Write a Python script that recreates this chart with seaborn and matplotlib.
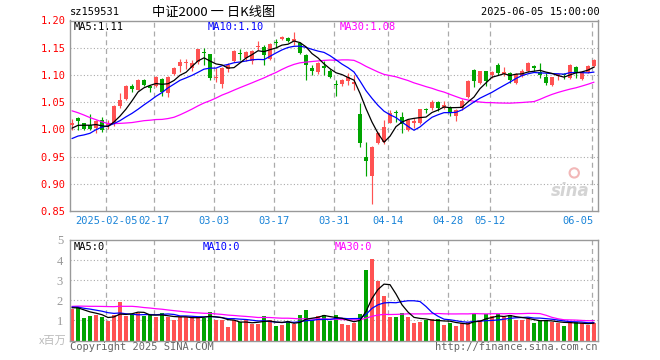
import numpy as np
import pandas as pd
import matplotlib
matplotlib.use("Agg")
import matplotlib.pyplot as plt
import matplotlib.transforms as mtransforms
import seaborn as sns

# ---------------- data ----------------
open_ = [1.008, 1.021, 1.011, 1.008, 1.002, 1.017, 1.006, 1.009, 1.042, 1.055,
         1.080, 1.073, 1.090, 1.080, 1.079, 1.093, 1.066, 1.101, 1.116, 1.121,
         1.113, 1.123, 1.142, 1.138, 1.094, 1.083, 1.110, 1.125, 1.141, 1.132,
         1.125, 1.152, 1.152, 1.130, 1.160, 1.166, 1.168, 1.163, 1.159, 1.137,
         1.113, 1.106, 1.117, 1.108, 1.084, 1.084, 1.089, 1.084, 1.028, 0.949,
         0.914, 0.975, 0.976, 1.012, 1.031, 1.023, 0.999, 1.012, 1.012, 1.037,
         1.039, 1.050, 1.039, 1.040, 1.025, 1.039, 1.060, 1.109, 1.086, 1.107,
         1.099, 1.119, 1.101, 1.104, 1.086, 1.098, 1.107, 1.116, 1.106, 1.096,
         1.082, 1.098, 1.101, 1.095, 1.115, 1.092, 1.105, 1.117]
high = [1.019, 1.022, 1.012, 1.028, 1.017, 1.022, 1.017, 1.044, 1.067, 1.081,
        1.084, 1.092, 1.093, 1.081, 1.098, 1.095, 1.098, 1.115, 1.129, 1.129,
        1.127, 1.148, 1.149, 1.139, 1.112, 1.114, 1.121, 1.146, 1.147, 1.144,
        1.146, 1.162, 1.155, 1.158, 1.166, 1.172, 1.170, 1.178, 1.160, 1.138,
        1.118, 1.124, 1.125, 1.110, 1.091, 1.093, 1.103, 1.100, 1.048, 0.977,
        0.970, 0.995, 1.017, 1.036, 1.036, 1.032, 1.018, 1.020, 1.038, 1.040,
        1.054, 1.052, 1.052, 1.043, 1.038, 1.055, 1.090, 1.111, 1.108, 1.108,
        1.107, 1.122, 1.114, 1.106, 1.103, 1.110, 1.123, 1.119, 1.122, 1.104,
        1.097, 1.103, 1.103, 1.120, 1.117, 1.107, 1.118, 1.130]
low = [0.999, 0.999, 0.998, 0.998, 0.993, 0.996, 1.001, 1.007, 1.040, 1.054,
       1.068, 1.072, 1.080, 1.069, 1.077, 1.062, 1.060, 1.099, 1.106, 1.111,
       1.108, 1.120, 1.118, 1.090, 1.087, 1.076, 1.106, 1.123, 1.127, 1.126,
       1.120, 1.145, 1.119, 1.128, 1.150, 1.164, 1.160, 1.155, 1.138, 1.091,
       1.100, 1.102, 1.100, 1.094, 1.061, 1.080, 1.082, 1.073, 0.968, 0.915,
       0.863, 0.973, 0.974, 1.011, 1.014, 0.994, 0.997, 1.002, 1.010, 1.030,
       1.036, 1.033, 1.037, 1.024, 1.016, 1.036, 1.057, 1.078, 1.084, 1.079,
       1.095, 1.100, 1.098, 1.086, 1.083, 1.096, 1.105, 1.107, 1.094, 1.082,
       1.080, 1.090, 1.093, 1.093, 1.095, 1.090, 1.103, 1.115]
close = [1.011, 1.016, 1.001, 1.000, 1.016, 0.999, 1.010, 1.043, 1.054, 1.080,
         1.075, 1.091, 1.082, 1.076, 1.097, 1.068, 1.096, 1.112, 1.124, 1.124,
         1.122, 1.147, 1.140, 1.095, 1.097, 1.113, 1.118, 1.144, 1.138, 1.142,
         1.144, 1.154, 1.136, 1.156, 1.158, 1.170, 1.162, 1.166, 1.141, 1.119,
         1.108, 1.122, 1.112, 1.096, 1.082, 1.091, 1.096, 1.087, 0.975, 0.942,
         0.967, 0.993, 1.005, 1.030, 1.030, 1.009, 1.017, 1.015, 1.037, 1.035,
         1.051, 1.039, 1.044, 1.030, 1.036, 1.053, 1.089, 1.089, 1.107, 1.089,
         1.105, 1.104, 1.106, 1.091, 1.101, 1.108, 1.121, 1.113, 1.099, 1.085,
         1.096, 1.101, 1.099, 1.119, 1.104, 1.105, 1.117, 1.127]
volume = [1.55, 1.67, 1.10, 1.20, 1.28, 1.17, 0.97, 1.25, 1.90, 1.20,
          1.33, 1.37, 1.20, 1.25, 1.17, 1.37, 1.17, 1.00, 1.17, 1.17,
          1.17, 1.17, 1.12, 1.40, 1.00, 1.00, 0.67, 1.00, 0.92, 1.00,
          0.82, 0.80, 1.20, 1.03, 0.72, 0.75, 0.97, 0.82, 1.25, 1.50,
          1.00, 1.20, 1.28, 0.97, 1.28, 0.80, 0.75, 0.87, 1.30, 3.50,
          4.05, 2.97, 2.20, 1.17, 1.17, 1.37, 1.17, 0.87, 0.92, 1.03,
          1.08, 1.08, 0.75, 0.87, 0.70, 0.87, 0.92, 1.30, 1.00, 1.30,
          1.20, 1.30, 1.17, 1.25, 1.00, 1.00, 1.08, 0.87, 0.97, 1.03,
          0.92, 0.87, 0.72, 0.92, 0.92, 0.87, 0.75, 0.87]
# closes / volumes before the visible window, estimated from where the MA lines start
hist_close = [1.12, 1.13, 1.14, 1.13, 1.12, 1.10, 1.05, 1.04, 1.06, 1.05,
              1.04, 1.03, 1.05, 1.06, 1.06, 1.05, 1.04, 0.99, 0.97, 0.96,
              0.97, 0.98, 0.97, 0.95, 0.95, 0.99, 1.00, 1.00, 1.01]
hist_volume = [1.3, 1.2, 1.4, 1.3, 1.3, 1.2, 1.4, 1.3, 1.3, 1.3,
               2.1, 2.3, 2.0, 2.2, 2.1, 2.3, 2.0, 2.1, 2.2, 2.0,
               1.7, 1.7, 1.6, 1.8, 1.7, 1.7, 1.6, 1.7, 1.6]
tick_idx = [6, 14, 24, 34, 44, 53, 63, 70, 87]
tick_labels = ["2025-02-05", "02-17", "03-03", "03-17", "03-31",
               "04-14", "04-28", "05-12", "06-05"]
price_ticks = [0.85, 0.90, 0.95, 1.00, 1.05, 1.10, 1.15, 1.20]
vol_ticks = [1, 2, 3, 4, 5]

# ---------------- derived ----------------
n = len(close)
x = np.arange(n)
o = np.array(open_); h = np.array(high); l = np.array(low); c = np.array(close)
full_c = pd.Series(hist_close + close)
full_v = pd.Series(hist_volume + volume)
ma = {k: full_c.rolling(k).mean().values[-n:] for k in (5, 10, 30)}
vma = {k: full_v.rolling(k).mean().values[-n:] for k in (5, 10, 30)}

RED = "#FF5252"
GREEN = "#00A400"
GRID = "#AAAAAA"
up = c >= o
cols = np.where(up, RED, GREEN)

sns.set_style("white")
plt.rcParams["font.family"] = ["DejaVu Sans Mono", "Noto Sans CJK SC"]

W, H = 660, 360
fig = plt.figure(figsize=(6.6, 3.6), dpi=100)


def rect(lft, top, rgt, bot):
    return [lft / W, 1 - bot / H, (rgt - lft) / W, (bot - top) / H]


ax = fig.add_axes(rect(70, 20.5, 598, 211))
axv = fig.add_axes(rect(70, 240, 598, 340.5))
XL = (-1 / 3, n - 1 / 3)

# ---- price panel ----
for yv in price_ticks[1:-1]:
    ax.axhline(yv, color=GRID, lw=0.8, ls=(0, (1, 2)), zorder=0)
for ti in tick_idx:
    ax.axvline(ti - 1 / 3, color=GRID, lw=0.9, ls=(0, (4, 3)), zorder=0)
ax.vlines(x, l, h, colors=cols, lw=0.85, zorder=2)
ax.bar(x, np.maximum(np.abs(c - o), 0.0013), bottom=np.minimum(o, c),
       width=0.76, color=cols, linewidth=0, zorder=3)
for k, col in [(30, "#FF00FF"), (10, "#0000FF"), (5, "#000000")]:
    sns.lineplot(x=x, y=ma[k], ax=ax, color=col, linewidth=0.9, zorder=4)
ax.set_xlim(*XL)
ax.set_ylim(0.85, 1.20)
ax.set_yticks(price_ticks)
ax.set_yticklabels([f"{t:.2f}" for t in price_ticks])
ax.set_xticks([])
ax.tick_params(axis="y", length=0, pad=3, labelsize=7.5, labelcolor="#FF0000")
ax.set_xlabel(""); ax.set_ylabel("")
for sp in ax.spines.values():
    sp.set_color("#999999"); sp.set_linewidth(1.0)

trans = mtransforms.blended_transform_factory(ax.transData, ax.transAxes)
for ti, lab in zip(tick_idx, tick_labels):
    ha = "right" if ti == tick_idx[-1] else "center"
    ax.text(ti - 1 / 3 + (0.2 if ha == "right" else 0), -0.055, lab, transform=trans,
            ha=ha, va="center", fontsize=7.5, color="#1A84D8")

ax.text(0.006, 0.965, "MA5:1.11", transform=ax.transAxes, fontsize=7.5,
        color="#000000", va="center", ha="left")
ax.text(0.260, 0.965, "MA10:1.10", transform=ax.transAxes, fontsize=7.5,
        color="#0000FF", va="center", ha="left")
ax.text(0.510, 0.965, "MA30:1.08", transform=ax.transAxes, fontsize=7.5,
        color="#FF00FF", va="center", ha="left")
# sina watermark
ax.text(0.985, 0.06, "sina", transform=ax.transAxes, fontsize=12,
        family="DejaVu Sans", style="italic", weight="bold",
        color="#D4D4D4", ha="right", va="bottom", zorder=1)
ax.scatter([0.955], [0.20], s=45, transform=ax.transAxes, facecolor="none",
           edgecolor="#F2B8B8", linewidth=1.5, zorder=1)

# ---- volume panel ----
for yv in vol_ticks[:-1]:
    axv.axhline(yv, color=GRID, lw=0.8, ls=(0, (1, 2)), zorder=0)
for ti in tick_idx:
    axv.axvline(ti - 1 / 3, color=GRID, lw=0.9, ls=(0, (4, 3)), zorder=0)
axv.bar(x, volume, width=0.8, color=cols, linewidth=0, zorder=2)
for k, col in [(30, "#FF00FF"), (10, "#0000FF"), (5, "#000000")]:
    sns.lineplot(x=x, y=vma[k], ax=axv, color=col, linewidth=0.9, zorder=4)
axv.set_xlim(*XL)
axv.set_ylim(0, 5)
axv.set_yticks(vol_ticks)
axv.set_yticklabels([str(t) for t in vol_ticks], family="Liberation Serif")
axv.set_xticks([])
axv.tick_params(axis="y", length=0, pad=5, labelsize=9, labelcolor="#999999")
axv.set_xlabel(""); axv.set_ylabel("")
for sp in axv.spines.values():
    sp.set_color("#999999"); sp.set_linewidth(1.0)
axv.text(0.006, 0.93, "MA5:0", transform=axv.transAxes, fontsize=7.5,
         color="#000000", va="center", ha="left")
axv.text(0.252, 0.93, "MA10:0", transform=axv.transAxes, fontsize=7.5,
         color="#0000FF", va="center", ha="left")
axv.text(0.502, 0.93, "MA30:0", transform=axv.transAxes, fontsize=7.5,
         color="#FF00FF", va="center", ha="left")

# ---- header / footer texts ----
fig.text(70 / W, 1 - 12 / H, "sz159531", fontsize=7.5, color="#000000",
         ha="left", va="center")
fig.text(214 / W, 1 - 12 / H, "中证2000 一 日K线图", fontsize=9.5,
         family=["Noto Sans CJK SC", "DejaVu Sans"], color="#000000",
         ha="center", va="center")
fig.text(600 / W, 1 - 12 / H, "2025-06-05 15:00:00", fontsize=7.5,
         color="#000000", ha="right", va="center")
fig.text(67 / W, 1 - 341 / H, "x百万", fontsize=8,
         family=["Noto Sans CJK SC", "DejaVu Sans"], color="#BBBBBB",
         ha="right", va="center")
fig.text(70 / W, 1 - 347 / H, "Copyright 2025 SINA.COM", fontsize=7.5,
         color="#666666", ha="left", va="center")
fig.text(597 / W, 1 - 347 / H, "http://finance.sina.com.cn", fontsize=7.5,
         color="#666666", ha="right", va="center")

fig.savefig("out.png", dpi=100, facecolor="white")
